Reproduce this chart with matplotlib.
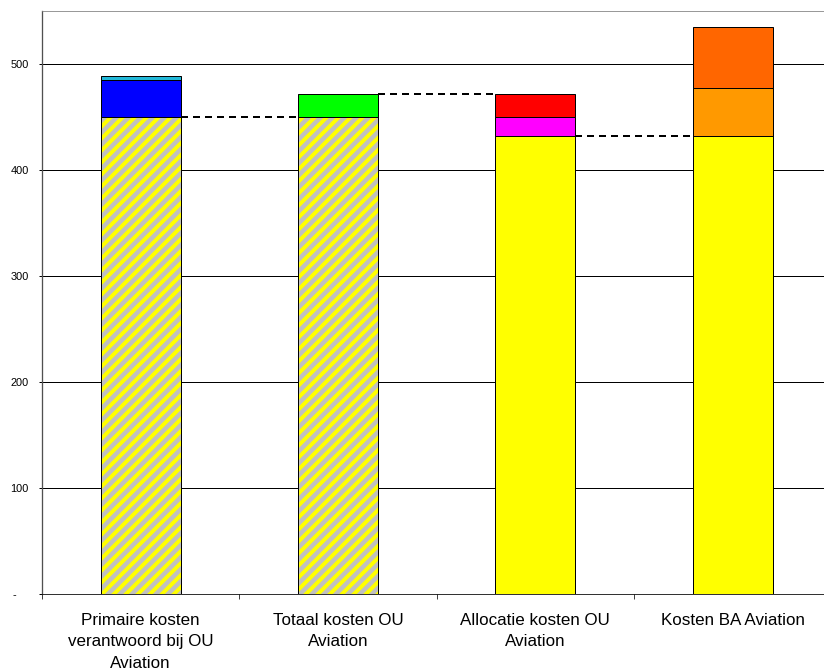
"""Stacked cost bridge chart for OU Aviation."""
import matplotlib

matplotlib.use("Agg")
import matplotlib.pyplot as plt
from matplotlib.ticker import FixedLocator

DPI = 72  # hatch unit is 72 px at this dpi

CATEGORIES = [
    "Primaire kosten\nverantwoord bij OU\nAviation",
    "Totaal kosten OU\nAviation",
    "Allocatie kosten OU\nAviation",
    "Kosten BA Aviation",
]
BASE_VALUES = [450, 450, 432, 432]
BASE_HATCHED = [True, True, False, False]
BLUE_VALUES = [35, 0, 0, 0]
CYAN_VALUES = [4, 0, 0, 0]
GREEN_VALUES = [0, 22, 0, 0]
MAGENTA_VALUES = [0, 0, 18, 0]
RED_VALUES = [0, 0, 22, 0]
ORANGE_VALUES = [0, 0, 0, 45.5]
DARK_ORANGE_VALUES = [0, 0, 0, 58]
CONNECTOR_LEVELS = [450, 472, 432]
Y_TICKS = [0, 100, 200, 300, 400, 500]
Y_TICK_LABELS = ["-    ", "100", "200", "300", "400", "500"]

SEGMENTS = [
    (BLUE_VALUES, "#0000FF"),
    (CYAN_VALUES, "#22B8D8"),
    (GREEN_VALUES, "#00FF00"),
    (MAGENTA_VALUES, "#FF00FF"),
    (RED_VALUES, "#FF0000"),
    (ORANGE_VALUES, "#FF9900"),
    (DARK_ORANGE_VALUES, "#FF6600"),
]

plt.rcParams["font.family"] = ["Liberation Sans", "DejaVu Sans"]
plt.rcParams["hatch.linewidth"] = 4.0

fig = plt.figure(figsize=(824 / DPI, 670 / DPI), dpi=DPI)
ax = fig.add_axes([42 / 824, 76.3 / 670, 4 * 197.3 / 824, 582.3 / 670])

x = list(range(len(CATEGORIES)))
width = 0.405

# base blocks, hatched or plain yellow
for i, (value, hatched) in enumerate(zip(BASE_VALUES, BASE_HATCHED)):
    if hatched:
        ax.bar(x[i], value, width, color="#C0C0C0", edgecolor="#FFFF00",
               hatch="//", linewidth=0, zorder=3)
    else:
        ax.bar(x[i], value, width, color="#FFFF00", linewidth=0, zorder=3)
    ax.bar(x[i], value, width, fill=False, edgecolor="black",
           linewidth=1, zorder=4)

bottoms = list(BASE_VALUES)
for values, color in SEGMENTS:
    for i, value in enumerate(values):
        if value == 0:
            continue
        ax.bar(x[i], value, width, bottom=bottoms[i], color=color,
               edgecolor="black", linewidth=1, zorder=3)
        bottoms[i] += value

for i, level in enumerate(CONNECTOR_LEVELS):
    ax.plot([x[i] + width / 2, x[i + 1] - width / 2], [level, level],
            color="black", linestyle=(0, (3.5, 2.5)), linewidth=2, zorder=5)

ax.set_xlim(-0.5, len(CATEGORIES) - 0.5)
ax.set_ylim(0, 550)

ax.xaxis.set_major_locator(FixedLocator([i - 0.5 for i in x] + [len(x) - 0.5]))
ax.xaxis.set_minor_locator(FixedLocator(x))
ax.set_xticklabels([])
ax.set_xticklabels(CATEGORIES, minor=True, fontsize=17, linespacing=1.55)
ax.tick_params(axis="x", which="major", direction="out", length=5,
               width=1, color="#404040")
ax.tick_params(axis="x", which="minor", length=0, pad=19)

ax.set_yticks(Y_TICKS)
ax.set_yticklabels(Y_TICK_LABELS, fontsize=11)
ax.tick_params(axis="y", direction="out", length=3, width=1, pad=10)

ax.yaxis.grid(True, color="black", linewidth=1)
ax.set_axisbelow(True)

ax.spines["top"].set_color("#808080")
ax.spines["left"].set_color("#505050")
ax.spines["left"].set_linewidth(1.3)
ax.spines["bottom"].set_color("black")
ax.spines["right"].set_visible(False)

fig.savefig("out.png", dpi=DPI)
